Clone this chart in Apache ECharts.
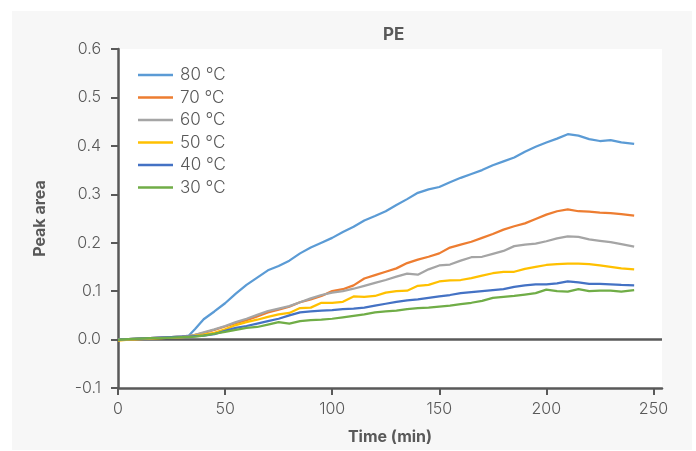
<!DOCTYPE html>
<html>
<head>
<meta charset="utf-8">
<script src="https://cdn.jsdelivr.net/npm/echarts@6/dist/echarts.min.js"></script>
<style>
  html, body { margin: 0; padding: 0; background: #fff; }
  #chart { width: 696px; height: 451px; }
</style>
</head>
<body>
<div id="chart"></div>
<script>
// sample times (min)
const times = [0, 5, 10, 15, 20, 25, 30, 33, 36, 40, 45, 50, 55, 60, 65, 70, 75, 80, 85, 90,
  95, 100, 105, 110, 115, 120, 125, 130, 135, 140, 145, 150, 155, 160, 165, 170, 175, 180,
  185, 190, 195, 200, 205, 210, 215, 220, 225, 230, 235, 241];

const names = ['80 °C', '70 °C', '60 °C', '50 °C', '40 °C', '30 °C'];
const colors = ['#5B9BD5', '#ED7D31', '#A5A5A5', '#FFC000', '#4472C4', '#70AD47'];

// peak area per series
const pe80 = [0, 0.001, 0.002, 0.003, 0.004, 0.005, 0.006, 0.008, 0.022, 0.042, 0.058, 0.075, 0.095,
  0.113, 0.128, 0.143, 0.152, 0.163, 0.178, 0.19, 0.2, 0.21, 0.222, 0.233, 0.246, 0.255, 0.265,
  0.278, 0.29, 0.303, 0.31, 0.315, 0.325, 0.334, 0.342, 0.35, 0.36, 0.368, 0.376, 0.388, 0.398,
  0.407, 0.415, 0.424, 0.421, 0.414, 0.41, 0.412, 0.407, 0.404];
const pe70 = [0, 0.001, 0.002, 0.003, 0.004, 0.005, 0.006, 0.007, 0.01, 0.014, 0.02, 0.027, 0.034,
  0.04, 0.048, 0.056, 0.062, 0.068, 0.077, 0.083, 0.09, 0.1, 0.104, 0.112, 0.126, 0.133, 0.14,
  0.147, 0.158, 0.165, 0.171, 0.178, 0.19, 0.196, 0.202, 0.21, 0.218, 0.227, 0.234, 0.24, 0.249,
  0.258, 0.265, 0.269, 0.265, 0.264, 0.262, 0.261, 0.259, 0.256];
const pe60 = [0, 0.001, 0.002, 0.003, 0.004, 0.005, 0.006, 0.007, 0.01, 0.015, 0.021, 0.028, 0.036,
  0.043, 0.051, 0.059, 0.064, 0.069, 0.077, 0.085, 0.092, 0.097, 0.1, 0.105, 0.111, 0.117, 0.123,
  0.13, 0.136, 0.134, 0.145, 0.153, 0.155, 0.163, 0.17, 0.171, 0.177, 0.183, 0.193, 0.196, 0.198,
  0.203, 0.209, 0.213, 0.212, 0.207, 0.204, 0.201, 0.197, 0.192];
const pe50 = [-0.002, 0, 0.001, 0.002, 0.003, 0.004, 0.005, 0.006, 0.008, 0.01, 0.014, 0.021, 0.03,
  0.036, 0.041, 0.047, 0.052, 0.055, 0.065, 0.066, 0.076, 0.076, 0.078, 0.089, 0.088, 0.09, 0.097,
  0.1, 0.101, 0.111, 0.113, 0.12, 0.122, 0.123, 0.127, 0.132, 0.137, 0.14, 0.14, 0.146, 0.15,
  0.154, 0.156, 0.157, 0.157, 0.156, 0.153, 0.15, 0.147, 0.145];
const pe40 = [0, 0.001, 0.002, 0.003, 0.004, 0.005, 0.006, 0.006, 0.007, 0.008, 0.011, 0.018, 0.024,
  0.028, 0.033, 0.038, 0.043, 0.05, 0.056, 0.058, 0.06, 0.061, 0.063, 0.064, 0.066, 0.07, 0.074,
  0.078, 0.081, 0.083, 0.086, 0.089, 0.092, 0.096, 0.098, 0.1, 0.102, 0.104, 0.109, 0.112, 0.114,
  0.114, 0.116, 0.12, 0.118, 0.115, 0.115, 0.114, 0.113, 0.112];
const pe30 = [0, 0.001, 0.002, 0.003, 0.003, 0.004, 0.005, 0.005, 0.006, 0.008, 0.012, 0.016, 0.02,
  0.024, 0.026, 0.031, 0.036, 0.033, 0.038, 0.04, 0.041, 0.043, 0.046, 0.049, 0.052, 0.056, 0.058,
  0.06, 0.063, 0.065, 0.066, 0.068, 0.07, 0.073, 0.076, 0.08, 0.086, 0.088, 0.09, 0.093, 0.096,
  0.103, 0.1, 0.099, 0.104, 0.1, 0.101, 0.101, 0.099, 0.102];

const xTicks = [0, 50, 100, 150, 200, 250];

const values = [pe80, pe70, pe60, pe50, pe40, pe30];
const axisColor = '#595959';
const font = "Inter, 'Liberation Sans', Arial, sans-serif";

const chart = echarts.init(document.getElementById('chart'));

const series = values.map((vals, i) => ({
  name: names[i],
  type: 'line',
  symbol: 'none',
  data: times.map((t, k) => [t, vals[k]]),
  lineStyle: { color: colors[i], width: 2.25 },
  itemStyle: { color: colors[i] },
  z: 3 + i,
}));

// zero line
series[0].markLine = {
  silent: true,
  symbol: 'none',
  label: { show: false },
  lineStyle: { color: axisColor, width: 2.5, type: 'solid' },
  data: [{ yAxis: 0 }],
  z: 2,
};

chart.setOption({
  animation: false,
  backgroundColor: '#fff',
  graphic: [{
    type: 'rect',
    z: -100,
    shape: { x: 12, y: 11, width: 680, height: 439 },
    style: { fill: '#f7f7f7' },
  }],
  title: {
    text: 'PE',
    left: 378,
    top: 21,
    textStyle: { fontFamily: font, fontSize: 17, fontWeight: 'bold', color: axisColor },
  },
  legend: {
    orient: 'vertical',
    left: 133,
    top: 61,
    icon: 'rect',
    itemWidth: 35,
    itemHeight: 2.5,
    itemGap: 4.5,
    data: names,
    textStyle: {
      fontFamily: font, fontSize: 17, fontWeight: 300, color: axisColor, lineHeight: 18,
      padding: [0, 0, 0, 2],
    },
  },
  grid: {
    left: 118,
    right: 34,
    top: 49,
    bottom: 63,
    show: true,
    backgroundColor: '#fff',
    borderWidth: 0,
  },
  xAxis: {
    type: 'value',
    min: 0,
    max: 254,
    interval: 50,
    name: 'Time (min)',
    nameLocation: 'middle',
    nameGap: 41,
    nameTextStyle: { fontFamily: font, fontSize: 16, fontWeight: 'bold', color: axisColor },
    axisLine: { onZero: false, lineStyle: { color: axisColor, width: 2.5 } },
    axisTick: { show: true, length: 7, customValues: xTicks, lineStyle: { color: axisColor, width: 2 } },
    axisLabel: {
      customValues: xTicks, margin: 13, fontFamily: font, fontSize: 16, fontWeight: 300,
      color: axisColor,
    },
    splitLine: { show: false },
  },
  yAxis: {
    type: 'value',
    min: -0.1,
    max: 0.6,
    interval: 0.1,
    name: 'Peak area',
    nameLocation: 'middle',
    nameGap: 70,
    nameTextStyle: { fontFamily: font, fontSize: 16, fontWeight: 'bold', color: axisColor },
    axisLine: { show: true, lineStyle: { color: axisColor, width: 2.5 } },
    axisTick: { show: true, length: 7, lineStyle: { color: axisColor, width: 2 } },
    axisLabel: {
      margin: 17, fontFamily: font, fontSize: 16, fontWeight: 300, color: axisColor,
      formatter: (v) => v.toFixed(1),
    },
    splitLine: { show: false },
  },
  series,
});
</script>
</body>
</html>
